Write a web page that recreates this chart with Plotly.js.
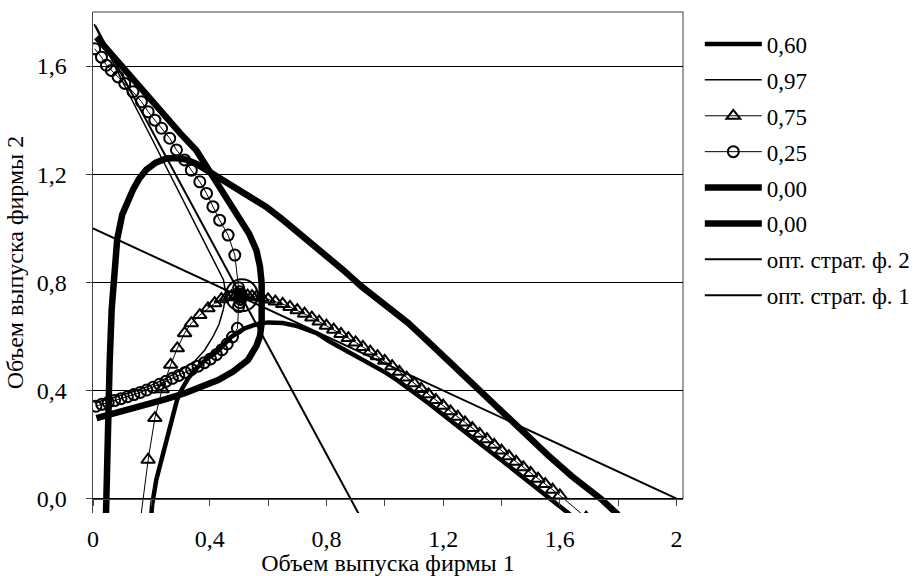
<!DOCTYPE html>
<html>
<head>
<meta charset="utf-8">
<script src="https://cdn.plot.ly/plotly-3.0.1.min.js"></script>
<style>
html,body{margin:0;padding:0;background:#fff;}
#chart{width:922px;height:576px;}
#chart text{font-family:"Liberation Serif","Times New Roman",serif !important;}
</style>
</head>
<body>
<div id="chart"></div>
<script>
// ---- data ----
var seriesNames = ["0,60", "0,97", "0,75", "0,25", "0,00", "0,00", "опт. страт. ф. 2", "опт. страт. ф. 1"];

// 0,60
var s060_x = [0.198,0.203,0.217,0.232,0.246,0.26,0.274,0.288,0.303,0.325,0.349,0.39,0.429,0.474,0.52,0.56,0.6,0.65,0.7,0.766,0.811,0.85,0.9,0.95,1.0,1.04,1.1,1.15,1.2,1.268,1.33,1.4,1.45,1.497,1.56,1.634,1.66];
var s060_y = [-0.08,-0.02,0.07,0.135,0.193,0.255,0.316,0.365,0.402,0.443,0.476,0.518,0.55,0.599,0.63,0.645,0.652,0.65,0.638,0.612,0.581,0.558,0.53,0.5,0.468,0.44,0.395,0.353,0.31,0.255,0.2,0.142,0.1,0.058,0.005,-0.059,-0.08];

// 0,97
var s097_x = [0.004,0.1,0.2,0.297,0.37,0.42,0.447,0.455,0.452,0.446,0.432,0.411,0.383,0.35,0.3,0.25,0.2,0.15,0.1,0.05,0.005];
var s097_y = [1.755,1.545,1.335,1.129,0.975,0.87,0.81,0.76,0.73,0.698,0.645,0.599,0.55,0.51,0.475,0.445,0.42,0.4,0.383,0.368,0.355];

// 0,75 (triangles)
var s075_x = [0.16,0.189,0.212,0.237,0.266,0.289,0.314,0.337,0.366,0.394,0.417,0.44,0.458,0.475,0.49,0.503,0.515,
              0.53,0.545,0.56,0.578,0.6,0.625,0.65,0.675,0.7,0.725,0.75,0.775,0.8,0.825,0.85,0.875,0.9,0.925,0.95,0.975,
              1.0,1.025,1.05,1.075,1.1,1.125,1.15,1.175,1.2,1.225,1.25,1.275,1.3,1.325,1.35,1.375,1.4,1.425,1.45,1.475,
              1.5,1.525,1.55,1.575,1.6,1.69];
var s075_y = [-0.1,0.144,0.298,0.405,0.495,0.556,0.612,0.649,0.679,0.704,0.723,0.738,0.745,0.749,0.751,0.752,0.752,
              0.751,0.749,0.747,0.743,0.737,0.729,0.72,0.709,0.697,0.684,0.67,0.655,0.64,0.625,0.609,0.594,0.578,0.561,0.544,0.527,
              0.51,0.49,0.469,0.448,0.427,0.406,0.386,0.365,0.344,0.323,0.303,0.282,0.261,0.24,0.22,0.199,0.178,0.157,0.137,0.116,
              0.095,0.074,0.054,0.033,0.012,-0.07];

// 0,25 (circles)
var s025_x = [0.006,0.029,0.046,0.063,0.086,0.109,0.137,0.166,0.189,0.212,0.235,0.263,0.286,0.314,0.337,0.366,0.389,0.411,0.434,0.463,0.486,
              0.499,0.503,0.506,0.508,0.508,0.506,0.503,0.499,
              0.495,0.478,0.46,0.442,0.423,0.403,0.382,0.36,0.338,0.316,0.294,0.272,0.25,0.228,0.206,0.184,0.162,0.14,0.118,0.096,0.074,0.052,0.03,0.01];
var s025_y = [1.664,1.633,1.603,1.584,1.56,1.536,1.505,1.468,1.431,1.4,1.37,1.333,1.29,1.253,1.215,1.172,1.129,1.08,1.03,0.975,0.901,
              0.78,0.765,0.756,0.75,0.745,0.737,0.725,0.71,
              0.63,0.598,0.572,0.551,0.533,0.517,0.503,0.49,0.478,0.467,0.456,0.445,0.434,0.423,0.412,0.402,0.393,0.385,0.377,0.37,0.363,0.356,0.349,0.342];

// 0,00 (firm 1 branch)
var s000a_x = [0.012,0.08,0.15,0.229,0.3,0.354,0.407,0.455,0.503,0.535,0.56,0.572,0.578,0.58,0.578,0.572,0.56,0.531,0.48,0.429,0.37,0.314,0.25,0.2,0.14,0.086,0.012];
var s000a_y = [1.707,1.622,1.535,1.436,1.35,1.289,1.2,1.12,1.042,0.98,0.919,0.86,0.797,0.72,0.65,0.6,0.565,0.513,0.47,0.439,0.412,0.39,0.368,0.353,0.337,0.322,0.298];

// 0,00 (firm 2 branch)
var s000b_x = [0.044,0.047,0.051,0.057,0.064,0.072,0.083,0.1,0.118,0.137,0.158,0.183,0.215,0.252,0.285,0.32,0.355,0.389,0.43,0.48,0.535,0.594,0.65,0.709,0.76,0.811,0.857,0.92,1.0,1.08,1.154,1.24,1.32,1.4,1.48,1.56,1.64,1.74,1.8];
var s000b_y = [-0.08,0.1,0.3,0.5,0.7,0.85,0.96,1.05,1.1,1.143,1.183,1.217,1.243,1.258,1.26,1.254,1.238,1.215,1.187,1.153,1.116,1.079,1.032,0.981,0.935,0.889,0.846,0.785,0.718,0.65,0.575,0.487,0.403,0.32,0.24,0.16,0.084,0.0,-0.06];

// optimal strategies
var opt2_x = [0, 2];
var opt2_y = [1, 0];
var opt1_x = [0.0075, 0.93];
var opt1_y = [1.75, -0.095];

// equilibrium marker
var eq_x = [0.51];
var eq_y = [0.752];

// axis ticks
var xTickVals = [0,0.2,0.4,0.6,0.8,1.0,1.2,1.4,1.6,1.8,2.0];
var xTickText = ["0","","0,4","","0,8","","1,2","","1,6","","2"];
var yTickVals = [0,0.4,0.8,1.2,1.6];
var yTickText = ["0,0","0,4","0,8","1,2","1,6"];

var xTitle = "Объем выпуска фирмы 1";
var yTitle = "Объем выпуска фирмы 2";

// ---- traces ----
var K = "#000";
var FAM = "Liberation Serif";
function tr(x, y, name, i, line, extra) {
  var t = {x: x, y: y, name: name, type: "scatter", mode: "lines", line: line,
           legendgroup: "g" + i, hoverinfo: "skip"};
  if (extra) for (var k in extra) t[k] = extra[k];
  return t;
}
var data = [
  tr(s060_x, s060_y, seriesNames[0], 0, {color: K, width: 4.5}),
  tr(s097_x, s097_y, seriesNames[1], 1, {color: K, width: 1.5}),
  tr(s075_x, s075_y, seriesNames[2], 2, {color: K, width: 1}, {mode: "lines+markers",
      marker: {symbol: "triangle-up-open", size: 12, color: K, line: {color: K, width: 2}}}),
  tr(s025_x, s025_y, seriesNames[3], 3, {color: K, width: 1}, {mode: "lines+markers",
      marker: {symbol: "circle-open", size: 11, color: K, line: {color: K, width: 2}}}),
  tr(s000a_x, s000a_y, seriesNames[4], 4, {color: K, width: 6.5}),
  tr(s000b_x, s000b_y, seriesNames[5], 5, {color: K, width: 6.5}),
  tr(opt2_x, opt2_y, seriesNames[6], 6, {color: K, width: 2}),
  tr(opt1_x, opt1_y, seriesNames[7], 7, {color: K, width: 2}),
  {x: eq_x, y: eq_y, type: "scatter", mode: "markers", showlegend: false, hoverinfo: "skip",
   marker: {symbol: "circle-open", size: 32, color: K, line: {color: K, width: 2}}}
];

var yMin = -0.053, yMax = 1.8;
var layout = {
  width: 922, height: 576,
  margin: {l: 93, r: 239, t: 12, b: 63, pad: 0, autoexpand: false},
  paper_bgcolor: "#fff", plot_bgcolor: "#fff",
  font: {family: FAM, size: 23, color: "#000"},
  showlegend: true,
  legend: {x: 1.0285, xanchor: "left", y: 0.979, yanchor: "top", traceorder: "grouped",
           tracegroupgap: 3, itemwidth: 57, font: {family: FAM, size: 23, color: "#000"},
           bgcolor: "rgba(0,0,0,0)", borderwidth: 0},
  xaxis: {range: [0, 2.022], anchor: "free", position: (0 - yMin) / (yMax - yMin),
          tickmode: "array", tickvals: xTickVals, ticktext: xTickText,
          ticks: "outside", ticklen: 6, tickcolor: "#444", tickwidth: 1,
          showline: true, linecolor: "#444", linewidth: 1.5,
          showgrid: false, zeroline: false, ticklabelstandoff: 12,
          tickfont: {family: FAM, size: 24, color: "#000"},
          title: {text: xTitle, font: {family: FAM, size: 24, color: "#000"}, standoff: 5}},
  yaxis: {range: [yMin, yMax],
          tickmode: "array", tickvals: yTickVals, ticktext: yTickText,
          ticks: "outside", ticklen: 6, tickcolor: "#444", tickwidth: 1,
          showline: true, linecolor: "#444", linewidth: 1.5,
          showgrid: true, gridcolor: "#000", gridwidth: 1, zeroline: false,
          ticklabelstandoff: 14,
          tickfont: {family: FAM, size: 24, color: "#000"},
          title: {text: yTitle, font: {family: FAM, size: 24, color: "#000"}, standoff: 6}},
  shapes: [
    {type: "path", xref: "x domain", yref: "y domain", layer: "below",
     path: "M 0 1 L 1 1 L 1 " + ((0 - yMin) / (yMax - yMin)),
     line: {color: "#808080", width: 1.5}}
  ]
};
Plotly.newPlot("chart", data, layout, {displayModeBar: false, staticPlot: true});
</script>
</body>
</html>
